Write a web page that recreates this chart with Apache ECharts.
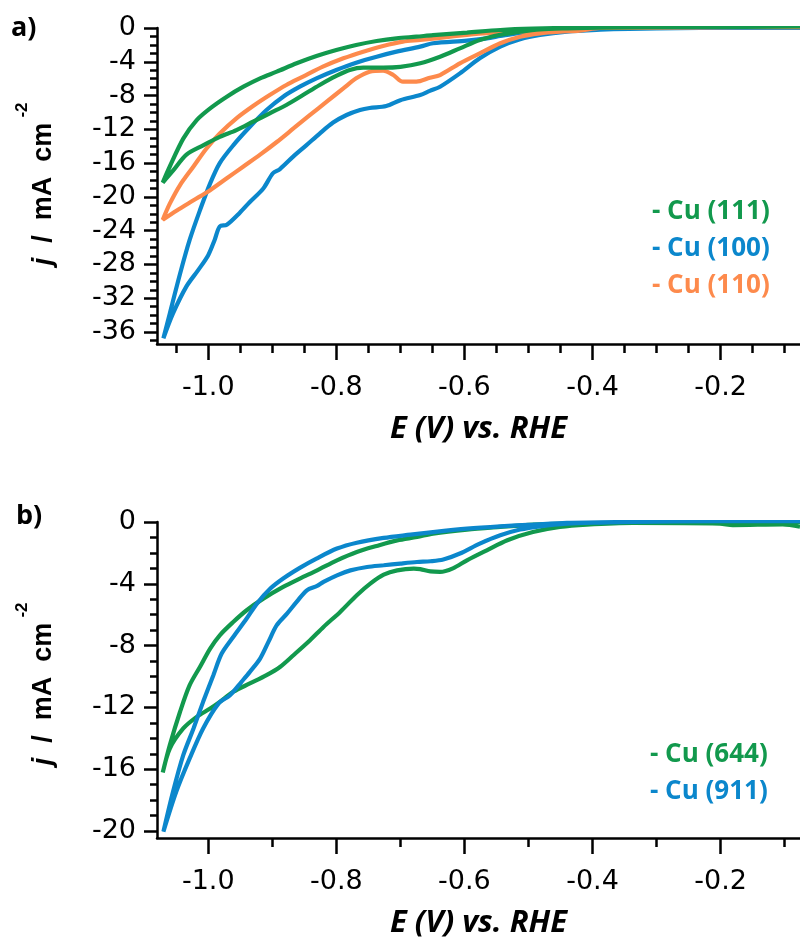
<!DOCTYPE html>
<html>
<head>
<meta charset="utf-8">
<script src="https://cdn.jsdelivr.net/npm/echarts@6.0.0/dist/echarts.min.js"></script>
<style>
  html, body { margin: 0; padding: 0; background: #fff; }
  #chart { width: 800px; height: 945px; }
</style>
</head>
<body>
<div id="chart"></div>
<script>
// ---- panel a) : Cu(111), Cu(100), Cu(110) ----
// each loop: cathodic branch right -> left, then return branch left -> right
const cu111X = [-0.076, -0.232, -0.388, -0.44, -0.482, -0.513, -0.544, -0.576, -0.607, -0.638, -0.669, -0.70, -0.727, -0.758, -0.779, -0.80, -0.826, -0.852, -0.878, -0.904, -0.93, -0.956, -0.982, -1.008, -1.034, -1.055, -1.071,
  -1.06, -1.039, -1.018, -0.995, -0.971, -0.945, -0.919, -0.893, -0.862, -0.831, -0.80, -0.769, -0.737, -0.706, -0.675, -0.649, -0.596, -0.544, -0.493, -0.388, -0.232, -0.076]
const cu111Y = [0.15, 0.12, 0.05, -0.04, -0.16, -0.43, -0.8, -1.42, -2.41, -3.4, -4.18, -4.6, -4.7, -4.7, -4.97, -5.68, -6.75, -7.94, -9.12, -10.1, -11.1, -12.1, -12.9, -13.9, -15.0, -16.9, -18.3,
  -16.4, -13.1, -10.9, -9.4, -8.13, -6.95, -5.96, -5.17, -4.18, -3.32, -2.61, -2.01, -1.54, -1.22, -1.03, -0.85, -0.55, -0.24, -0.08, 0.1, 0.15, 0.18]

const cu100X = [-0.076, -0.232, -0.35, -0.388, -0.44, -0.482, -0.513, -0.544, -0.576, -0.607, -0.638, -0.654, -0.669, -0.70, -0.722, -0.748, -0.763, -0.784, -0.805, -0.826, -0.847, -0.867, -0.888, -0.899, -0.914, -0.935, -0.951, -0.971, -0.982, -0.99, -1.0, -1.016, -1.034, -1.055, -1.07,
  -1.06, -1.044, -1.029, -1.013, -0.997, -0.982, -0.961, -0.935, -0.909, -0.883, -0.857, -0.831, -0.80, -0.769, -0.737, -0.706, -0.669, -0.649, -0.596, -0.565, -0.544, -0.518, -0.482, -0.44, -0.388, -0.3, -0.232, -0.076]
const cu100Y = [0.0, 0.0, -0.1, -0.2, -0.43, -0.83, -1.34, -2.21, -3.59, -5.37, -6.95, -7.45, -7.94, -8.55, -9.24, -9.47, -9.71, -10.3, -11.2, -12.5, -13.9, -15.2, -16.7, -17.2, -19.0, -20.6, -21.9, -23.3, -23.5, -25.1, -26.9, -28.7, -30.6, -33.8, -36.75,
  -33.8, -29.1, -25.1, -21.6, -18.4, -16.0, -13.9, -11.7, -9.71, -8.13, -6.95, -5.96, -4.97, -4.11, -3.4, -2.8, -2.21, -1.81, -1.5, -1.22, -0.95, -0.63, -0.43, -0.36, -0.15, -0.05, 0.0, 0.05]

const cu110X = [-0.076, -0.232, -0.388, -0.42, -0.451, -0.482, -0.513, -0.544, -0.576, -0.607, -0.638, -0.654, -0.675, -0.696, -0.711, -0.727, -0.748, -0.769, -0.789, -0.815, -0.841, -0.867, -0.893, -0.919, -0.945, -0.971, -0.997, -1.023, -1.049, -1.071,
  -1.06, -1.044, -1.023, -1.003, -0.982, -0.956, -0.93, -0.904, -0.878, -0.852, -0.821, -0.789, -0.758, -0.727, -0.696, -0.669, -0.622, -0.571, -0.518, -0.466, -0.42, -0.388, -0.232, -0.076]
const cu110Y = [0.1, 0.08, 0.0, -0.32, -0.43, -0.63, -1.03, -1.81, -3.0, -4.18, -5.57, -5.9, -6.36, -6.36, -5.57, -5.05, -5.17, -5.96, -7.15, -8.72, -10.3, -11.9, -13.5, -15.0, -16.4, -17.8, -19.2, -20.4, -21.6, -22.7,
  -20.8, -18.6, -16.4, -14.3, -12.5, -10.7, -9.24, -7.94, -6.75, -5.76, -4.58, -3.59, -2.8, -2.13, -1.62, -1.42, -1.03, -0.63, -0.43, -0.24, -0.1, 0.0, 0.08, 0.1]

// ---- panel b) : Cu(644), Cu(911) ----
const cu644X = [-0.076, -0.103, -0.181, -0.201, -0.337, -0.409, -0.451, -0.493, -0.533, -0.565, -0.596, -0.618, -0.638, -0.653, -0.669, -0.679, -0.705, -0.726, -0.747, -0.768, -0.794, -0.82, -0.841, -0.867, -0.888, -0.909, -0.935, -0.961, -0.982, -0.997, -1.018, -1.039, -1.06, -1.071,
  -1.06, -1.044, -1.029, -1.013, -0.997, -0.982, -0.961, -0.94, -0.914, -0.883, -0.857, -0.83, -0.799, -0.768, -0.737, -0.705, -0.674, -0.649, -0.596, -0.544, -0.493, -0.44, -0.35, -0.2, -0.076]
const cu644Y = [-0.3, -0.15, -0.2, -0.1, -0.06, -0.17, -0.32, -0.65, -1.18, -1.83, -2.48, -3.0, -3.23, -3.2, -3.05, -3.02, -3.13, -3.41, -3.99, -4.74, -5.82, -6.79, -7.65, -8.62, -9.38, -9.91, -10.45, -10.99, -11.64, -12.07, -12.61, -13.36, -14.66, -16.21,
  -14.44, -12.28, -10.56, -9.38, -8.19, -7.33, -6.47, -5.71, -4.96, -4.2, -3.66, -3.13, -2.48, -1.94, -1.55, -1.19, -0.97, -0.75, -0.49, -0.32, -0.17, -0.1, -0.05, 0.0, 0.0]

const cu911X = [-0.076, -0.2, -0.337, -0.388, -0.44, -0.482, -0.513, -0.544, -0.576, -0.607, -0.633, -0.653, -0.674, -0.7, -0.726, -0.752, -0.778, -0.799, -0.82, -0.83, -0.846, -0.862, -0.877, -0.893, -0.906, -0.919, -0.935, -0.948, -0.966, -0.984, -1.008, -1.029, -1.05, -1.07,
  -1.055, -1.039, -1.023, -1.008, -0.992, -0.979, -0.961, -0.94, -0.924, -0.903, -0.883, -0.857, -0.831, -0.799, -0.768, -0.726, -0.684, -0.649, -0.596, -0.544, -0.493, -0.44, -0.35, -0.2, -0.076]
const cu911Y = [0.05, 0.05, 0.0, -0.04, -0.11, -0.28, -0.49, -0.86, -1.4, -2.04, -2.43, -2.54, -2.59, -2.69, -2.8, -2.91, -3.13, -3.45, -3.88, -4.14, -4.42, -5.17, -5.93, -6.68, -7.76, -8.84, -9.7, -10.34, -11.21, -11.75, -13.36, -15.3, -17.46, -20.04,
  -17.46, -15.09, -13.36, -11.64, -9.91, -8.51, -7.44, -6.25, -5.28, -4.31, -3.66, -2.97, -2.37, -1.72, -1.34, -1.03, -0.82, -0.65, -0.43, -0.28, -0.17, -0.06, 0.0, 0.05, 0.05]

// ---- ticks ----
const xMajorTicks = [-1.0, -0.8, -0.6, -0.4, -0.2]
const xMinorTicksA = [-1.05, -1.0, -0.95, -0.9, -0.85, -0.8, -0.75, -0.7, -0.65, -0.6, -0.55, -0.5, -0.45, -0.4, -0.35, -0.3, -0.25, -0.2, -0.15, -0.1]
const xMinorTicksB = [-1.0, -0.9, -0.8, -0.7, -0.6, -0.5, -0.4, -0.3, -0.2, -0.1]
const yMajorTicksA = [0, -4, -8, -12, -16, -20, -24, -28, -32, -36]
const yMinorTicksA = [0, -1, -2, -3, -4, -5, -6, -7, -8, -9, -10, -11, -12, -13, -14, -15, -16, -17, -18, -19, -20, -21, -22, -23, -24, -25, -26, -27, -28, -29, -30, -31, -32, -33, -34, -35, -36, -37]
const yMajorTicksB = [0, -4, -8, -12, -16, -20]
const yMinorTicksB = [0, -1, -2, -3, -4, -5, -6, -7, -8, -9, -10, -11, -12, -13, -14, -15, -16, -17, -18, -19, -20]

const GREEN = '#12994d'
const BLUE = '#0b87cc'
const ORANGE = '#fd8a4c'

const pairs = (xs, ys) => xs.map((x, i) => [x, ys[i]])

const tickFont = { fontFamily: 'DejaVu Sans', fontSize: 27, color: '#000' }
const titleFont = { fontFamily: 'Open Sans', fontWeight: 'bold', fontStyle: 'italic', fontSize: 31, color: '#000' }

const makeX = (gridIndex, ticks, minor) => [
  {
    gridIndex, type: 'value', position: 'bottom', min: -1.08, max: -0.076,
    axisLine: { onZero: false, lineStyle: { color: '#000', width: 2.5 } },
    axisTick: { customValues: ticks, length: 16, lineStyle: { color: '#000', width: 2.5 } },
    axisLabel: { customValues: ticks, margin: 30, formatter: v => v.toFixed(1), ...tickFont },
    splitLine: { show: false },
    name: 'E (V) vs. RHE', nameLocation: 'middle', nameGap: 70, nameTextStyle: titleFont
  },
  {
    gridIndex, type: 'value', position: 'bottom', min: -1.08, max: -0.076,
    axisLine: { show: false, onZero: false },
    axisTick: { customValues: minor, length: 9, lineStyle: { color: '#000', width: 2.5 } },
    axisLabel: { show: false, customValues: minor },
    splitLine: { show: false }
  }
]

const makeY = (gridIndex, min, ticks, minor) => [
  {
    gridIndex, type: 'value', position: 'left', min, max: 0,
    axisLine: { show: true, onZero: false, lineStyle: { color: '#000', width: 2.5 } },
    axisTick: { show: true, customValues: ticks, length: 13, lineStyle: { color: '#000', width: 2.5 } },
    axisLabel: { customValues: ticks, margin: 21, formatter: v => String(v), ...tickFont },
    splitLine: { show: false }
  },
  {
    gridIndex, type: 'value', position: 'left', min, max: 0,
    axisLine: { show: false, onZero: false },
    axisTick: { show: true, customValues: minor, length: 7, lineStyle: { color: '#000', width: 2.5 } },
    axisLabel: { show: false, customValues: minor },
    splitLine: { show: false }
  }
]

const line = (name, xs, ys, color, xi, yi) => ({
  name, type: 'line', xAxisIndex: xi, yAxisIndex: yi,
  data: pairs(xs, ys), showSymbol: false, smooth: 0.3,
  lineStyle: { color, width: 4.2 }, itemStyle: { color }
})

const yTitle = (cy, supY) => [
  {
    type: 'text', x: 44, y: cy, rotation: Math.PI / 2,
    style: {
      text: '{i|j}  /  mA  cm', align: 'center', verticalAlign: 'middle',
      fontFamily: 'Liberation Sans', fontWeight: 'bold', fontSize: 27, fill: '#000',
      rich: { i: { fontStyle: 'italic', fontWeight: 'bold', fontFamily: 'Liberation Sans', fontSize: 27 } }
    }
  },
  {
    type: 'text', x: 22, y: supY, rotation: Math.PI / 2,
    style: {
      text: '-2', align: 'center', verticalAlign: 'middle',
      fontFamily: 'Liberation Sans', fontWeight: 'bold', fontSize: 17, fill: '#000'
    }
  }
]

const legendStyle = {
  orient: 'vertical', icon: 'none', itemWidth: 0, itemHeight: 14, itemGap: 7,
  selectedMode: false, formatter: '- {name}',
  textStyle: { fontFamily: 'Open Sans', fontWeight: 'bold', fontSize: 26, lineHeight: 30 }
}

const chart = echarts.init(document.getElementById('chart'))
chart.setOption({
  animation: false,
  backgroundColor: '#fff',
  grid: [
    { left: 157, top: 28, width: 643, height: 316 },
    { left: 157, top: 522, width: 643, height: 316 }
  ],
  xAxis: [...makeX(0, xMajorTicks, xMinorTicksA), ...makeX(1, xMajorTicks, xMinorTicksB)],
  yAxis: [...makeY(0, -37.42, yMajorTicksA, yMinorTicksA), ...makeY(1, -20.45, yMajorTicksB, yMinorTicksB)],
  legend: [
    {
      ...legendStyle, left: 642, top: 192,
      data: [
        { name: 'Cu (111)', textStyle: { color: GREEN } },
        { name: 'Cu (100)', textStyle: { color: BLUE } },
        { name: 'Cu (110)', textStyle: { color: ORANGE } }
      ]
    },
    {
      ...legendStyle, left: 640, top: 735,
      data: [
        { name: 'Cu (644)', textStyle: { color: GREEN } },
        { name: 'Cu (911)', textStyle: { color: BLUE } }
      ]
    }
  ],
  series: [
    line('Cu (100)', cu100X, cu100Y, BLUE, 0, 0),
    line('Cu (110)', cu110X, cu110Y, ORANGE, 0, 0),
    line('Cu (111)', cu111X, cu111Y, GREEN, 0, 0),
    line('Cu (644)', cu644X, cu644Y, GREEN, 2, 2),
    line('Cu (911)', cu911X, cu911Y, BLUE, 2, 2)
  ],
  graphic: [
    { type: 'text', x: 11, y: 28, style: { text: 'a)', fontFamily: 'Open Sans', fontWeight: 'bold', fontSize: 27, fill: '#000', verticalAlign: 'middle' } },
    { type: 'text', x: 16, y: 516, style: { text: 'b)', fontFamily: 'Open Sans', fontWeight: 'bold', fontSize: 27, fill: '#000', verticalAlign: 'middle' } },
    ...yTitle(194, 110),
    ...yTitle(694, 610)
  ]
})
</script>
</body>
</html>
